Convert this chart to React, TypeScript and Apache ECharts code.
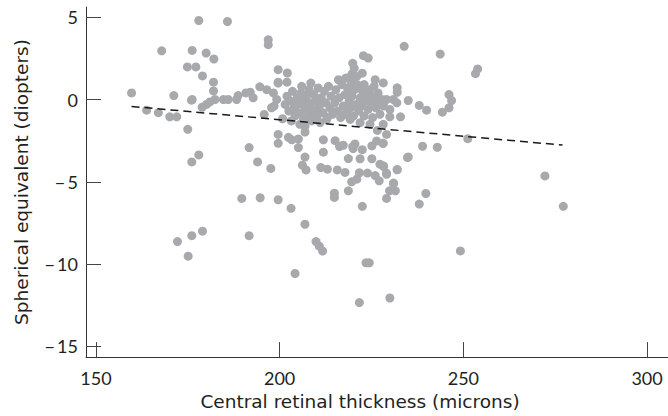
import React, { useEffect, useRef } from "react";
import * as echarts from "echarts";

// Central retinal thickness (microns) vs spherical equivalent (diopters)
const outerPoints: number[][] = [
  [178.0, 4.8], [185.8, 4.74], [167.9, 2.96], [176.2, 2.98], [180.0, 2.82], [182.1, 2.46],
  [174.9, 1.98], [177.2, 1.98], [179.0, 1.43], [182.0, 1.05], [182.0, 0.52], [196.9, 3.63],
  [196.9, 3.33], [199.6, 1.81], [202.1, 1.61], [199.6, 1.05], [202.0, 1.05], [159.7, 0.4],
  [171.2, 0.24], [176.2, 0.0], [163.8, -0.65], [167.0, -0.8], [170.1, -1.05], [172.0, -1.05],
  [175.0, -1.81], [178.9, -0.47], [180.1, -0.3], [181.0, -0.15], [182.4, 0.0], [184.7, 0.0],
  [186.0, 0.0], [188.3, 0.0], [188.7, 0.24], [190.8, 0.4], [192.0, 0.44], [192.8, 0.1],
  [194.6, 0.77], [196.5, 0.6], [198.3, 0.4], [199.6, 1.0], [176.0, -0.04], [198.5, -0.4],
  [199.2, 0.0], [195.8, -0.91], [197.8, -0.5], [200.8, -1.17],
];

const lowerPoints: number[][] = [
  [199.6, -2.12], [199.6, -2.66], [202.4, -2.3], [203.3, -2.45], [205.1, -2.4], [205.1, -2.92],
  [206.9, -1.98], [191.7, -2.92], [194.0, -3.79], [197.6, -4.19], [176.1, -3.79], [178.0, -3.37],
  [206.2, -3.99], [207.2, -4.28], [206.9, -3.5], [211.9, -2.45], [211.9, -3.2], [211.2, -4.13],
  [213.0, -4.23], [215.7, -4.28], [217.8, -4.43], [215.1, -2.5], [216.3, -2.86], [217.3, -2.78],
  [220.5, -2.7], [219.9, -2.86], [218.7, -3.59], [220.0, -2.98], [221.9, -3.6], [222.5, -3.05],
  [225.1, -2.82], [226.4, -2.52], [228.1, -2.66], [225.1, -3.6], [227.3, -3.93], [228.3, -4.07],
  [229.1, -4.48], [221.7, -4.45], [223.9, -4.47], [226.0, -4.62], [227.1, -4.94], [232.0, -4.27],
  [234.8, -3.53], [219.6, -5.0], [221.0, -4.84], [218.7, -5.55], [214.9, -5.69], [214.9, -5.95],
  [222.5, -6.49], [231.0, -5.08], [229.9, -5.55], [231.5, -5.55], [229.1, -6.01], [189.7, -6.01],
  [194.7, -5.97], [199.6, -6.09], [203.1, -6.61], [206.9, -7.58], [191.7, -8.27], [172.2, -8.63],
  [176.1, -8.27], [179.0, -8.0], [175.1, -9.52], [209.9, -8.63], [210.8, -8.91], [211.7, -9.21],
  [223.5, -9.92], [224.4, -9.92], [204.2, -10.57], [221.7, -12.34], [230.0, -12.06], [249.2, -9.2],
  [221.9, -1.41], [224.6, -1.51], [226.6, -1.88], [217.8, -0.91], [219.2, -1.21], [209.6, -0.91],
  [211.0, -0.8], [212.8, -1.21], [205.5, -1.51], [206.9, -1.62],
];

const rightPoints: number[][] = [
  [222.8, 2.66], [224.1, 2.52], [219.8, 1.57], [219.8, 1.11], [233.9, 3.23], [243.7, 2.76],
  [253.9, 1.86], [253.3, 1.57], [228.2, 1.01], [232.0, 0.71], [232.0, 0.44], [229.1, 0.0],
  [231.0, 0.0], [231.9, -0.2], [235.0, -0.06], [238.0, -0.36], [240.0, -0.65], [246.1, 0.3],
  [246.8, -0.06], [246.1, -0.5], [244.3, -0.77], [230.0, -0.6], [230.0, -1.05], [232.9, -1.05],
  [228.2, -1.51], [229.1, -2.12], [228.2, -2.66], [251.2, -2.38], [238.9, -2.84], [242.9, -2.9],
  [235.0, -3.49], [232.0, -4.25], [228.2, -4.03], [229.1, -4.54], [231.0, -5.1], [239.8, -5.71],
  [238.0, -6.35], [272.2, -4.64], [277.2, -6.49], [223.0, 0.91], [225.7, 0.8], [225.1, 0.2],
  [226.4, -0.16], [219.6, 0.4], [219.6, 1.51], [219.6, 1.01],
];

const clusterPoints: number[][] = [
  [201.5, -0.3], [202.0, 0.2], [202.5, -0.7], [203.0, -0.1], [203.5, 0.5], [204.0, -0.5],
  [204.2, -1.0], [204.8, 0.1], [205.0, -0.3], [205.5, -0.8], [205.8, 0.4], [206.3, -0.1],
  [206.5, -1.2], [207.0, -0.5], [207.2, 0.2], [207.8, -0.9], [208.0, 0.6], [208.3, -0.2],
  [208.7, -1.3], [209.0, -0.6], [209.3, 0.3], [209.8, -0.1], [210.2, -1.0], [210.5, 0.7],
  [210.8, -0.4], [211.3, 0.1], [211.8, -0.8], [212.2, 0.5], [212.5, -0.2], [213.0, -1.1],
  [213.3, 0.8], [213.7, -0.5], [214.0, 0.2], [214.4, -0.9], [203.2, -1.3], [206.0, 0.8],
  [208.5, 1.0], [211.0, -1.4], [215.0, -0.2], [215.3, 0.6], [215.8, -0.7], [216.2, 0.1],
  [216.6, -1.1], [217.0, 0.9], [217.3, -0.4], [217.8, 0.3], [218.2, -0.8], [218.5, 0.7],
  [218.9, -0.1], [219.3, -0.5], [219.7, 0.2], [220.1, -1.0], [220.4, 0.6], [220.8, -0.3],
  [221.2, 0.9], [221.5, -0.7], [221.9, 0.1], [222.3, -0.4], [222.6, 0.5], [223.0, -1.0],
  [223.3, -0.1], [223.7, 0.3], [224.1, -0.6], [224.5, 0.6], [224.8, -0.2], [225.3, -1.1],
  [225.7, 0.1], [226.2, -0.5], [226.8, 0.4], [227.3, -0.9], [227.8, 0.0], [228.3, -0.4],
  [216.0, 1.2], [218.0, 1.3], [221.0, 1.4], [222.5, 1.6], [219.9, 2.2], [220.3, 1.9],
  [226.0, 1.2],
];

const regressionLine: number[][] = [
  [159.7, -0.42],
  [277.0, -2.77],
];

const xTicks = [150, 200, 250, 300];
const yTicks = [-15, -10, -5, 0, 5];

const FONT = "Lato";
const TITLE_FONT = "DejaVu Sans";
const TEXT = "#231f20";

export default function App() {
  const ref = useRef<HTMLDivElement>(null);
  useEffect(() => {
    if (!ref.current) return;
    const chart = echarts.init(ref.current, null, { renderer: "svg" });
    const allPoints = [...outerPoints, ...lowerPoints, ...rightPoints, ...clusterPoints];
    chart.setOption({
      animation: false,
      backgroundColor: "#ffffff",
      grid: { left: 86, right: 0, top: 7, bottom: 57, containLabel: false },
      xAxis: {
        type: "value",
        min: 147.3,
        max: 305.7,
        splitLine: { show: false },
        axisLine: { show: true, onZero: false, lineStyle: { color: "#333", width: 1 } },
        axisTick: {
          show: true,
          inside: true,
          length: 15,
          customValues: xTicks,
          lineStyle: { color: "#444", width: 1 },
        },
        axisLabel: {
          customValues: xTicks,
          margin: 12,
          fontSize: 18,
          fontFamily: FONT,
          color: TEXT,
        },
        name: "Central retinal thickness (microns)",
        nameLocation: "middle",
        nameGap: 34,
        nameTextStyle: {
          fontSize: 18.5,
          fontFamily: TITLE_FONT,
          color: TEXT,
          padding: [0, 34, 0, 0],
        },
      },
      yAxis: {
        type: "value",
        min: -15.65,
        max: 5.62,
        splitLine: { show: false },
        axisLine: { show: true, onZero: false, lineStyle: { color: "#333", width: 1 } },
        axisTick: {
          show: true,
          inside: true,
          length: 15,
          customValues: yTicks,
          lineStyle: { color: "#444", width: 1 },
        },
        axisLabel: {
          customValues: yTicks,
          margin: 8,
          fontSize: 18,
          fontFamily: FONT,
          color: TEXT,
          formatter: (v: number) => (v < 0 ? "\u2212\u2009" + Math.abs(v) : String(v)),
        },
        name: "Spherical equivalent (diopters)",
        nameLocation: "middle",
        nameGap: 55,
        nameTextStyle: { fontSize: 18.5, fontFamily: TITLE_FONT, color: TEXT },
      },
      series: [
        {
          type: "scatter",
          data: allPoints,
          symbol: "circle",
          symbolSize: 9,
          itemStyle: { color: "#a7a9ac", opacity: 1 },
          z: 2,
        },
        {
          type: "line",
          data: regressionLine,
          symbol: "none",
          lineStyle: { color: "#1a1a1a", width: 1.5, type: [8, 5] },
          z: 3,
        },
      ],
    });
    return () => chart.dispose();
  }, []);
  return (
    <div
      ref={ref}
      style={{ position: "fixed", left: 0, top: 0, width: 668, height: 416, background: "#fff" }}
    />
  );
}
